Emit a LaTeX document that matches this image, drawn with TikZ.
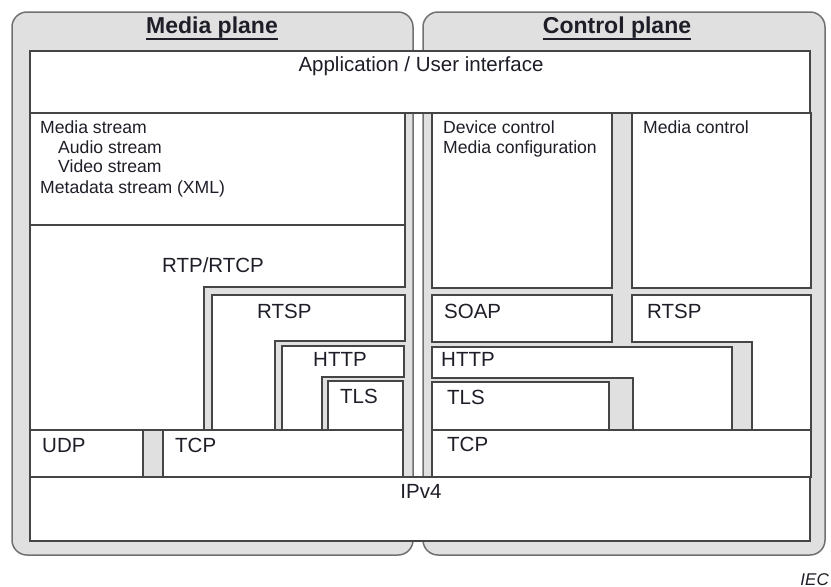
\documentclass[tikz,border=0pt]{standalone}
\usepackage{fontspec}
\setmainfont{Liberation Sans}
\definecolor{planefill}{HTML}{E0E0E0}
\definecolor{planeedge}{HTML}{707070}
\definecolor{boxedge}{HTML}{454545}
\definecolor{ink}{HTML}{1E1E28}
\begin{document}
\begin{tikzpicture}[x=1pt,y=-1pt,
  plane/.style={draw=planeedge,line width=1.5pt,fill=planefill,rounded corners=15pt},
  layer/.style={draw=boxedge,line width=1.1pt,fill=white,line join=miter},
  hdr/.style={inner sep=0pt,text=ink,font=\fontsize{23}{26}\selectfont\bfseries,anchor=base},
  ul/.style={draw=ink,line width=1.8pt},
  txt/.style={inner sep=0pt,text=ink,font=\fontsize{17.6}{20}\selectfont,anchor=base west},
  proto/.style={inner sep=0pt,text=ink,font=\fontsize{20.5}{24}\selectfont,anchor=base west},
  iecmark/.style={inner sep=0pt,text=ink,font=\fontsize{17}{20}\selectfont\itshape,anchor=base east}]
\useasboundingbox (0,0) rectangle (831,587);

% the two planes
\draw[plane] (12,12) rectangle (413,555);
\draw[plane] (423,12) rectangle (825,555);

\node[hdr] (mediahdr) at (212,33) {Media plane};
\draw[ul] ([yshift=-6pt]mediahdr.base west) -- ([yshift=-6pt]mediahdr.base east);
\node[hdr] (ctrlhdr) at (617,33) {Control plane};
\draw[ul] ([yshift=-6pt]ctrlhdr.base west) -- ([yshift=-6pt]ctrlhdr.base east);

% application layer spanning both planes
\draw[layer] (30,51) rectangle (810,113);
\node[proto,anchor=base] (app) at (421,71) {Application / User interface};

% media plane stack
\draw[layer] (30,113) rectangle (405,225);
\node[txt] (ms) at (40,133) {Media stream};
\node[txt] (as) at (58,153) {Audio stream};
\node[txt] (vs) at (58,172) {Video stream};
\node[txt] (md) at (40,193) {Metadata stream (XML)};

\draw[layer] (30,225) -- (405,225) -- (405,287) -- (204,287) -- (204,430) -- (30,430) -- cycle;
\node[proto,anchor=base] (rtp) at (213,272) {RTP/RTCP};

\draw[layer] (212,295) -- (405,295) -- (405,341) -- (275,341) -- (275,430) -- (212,430) -- cycle;
\node[proto] (rtspl) at (257,318) {RTSP};

\draw[layer] (282,346) -- (404,346) -- (404,377) -- (322,377) -- (322,430) -- (282,430) -- cycle;
\node[proto] (httpl) at (313,366) {HTTP};

\draw[layer] (328,381) rectangle (403,430);
\node[proto] (tlsl) at (340,403) {TLS};

\draw[layer] (30,430) rectangle (143,477);
\node[proto] (udp) at (42,452) {UDP};
\draw[layer] (163,430) rectangle (403,477);
\node[proto] (tcpl) at (175,452) {TCP};

% control plane stack
\draw[layer] (432,113) rectangle (612,288);
\node[txt] (dc) at (443,133) {Device control};
\node[txt] (mc) at (443,153) {Media configuration};
\draw[layer] (632,113) rectangle (811,288);
\node[txt] (mctl) at (643,133) {Media control};

\draw[layer] (432,295) rectangle (612,342);
\node[proto] (soap) at (444,318) {SOAP};

\draw[layer] (632,295) -- (811,295) -- (811,430) -- (752,430) -- (752,342) -- (632,342) -- cycle;
\node[proto] (rtspr) at (647,318) {RTSP};

\draw[layer] (432,347) -- (732,347) -- (732,430) -- (633,430) -- (633,378) -- (432,378) -- cycle;
\node[proto] (httpr) at (441,366) {HTTP};

\draw[layer] (432,382) rectangle (609,430);
\node[proto] (tlsr) at (447,404) {TLS};

\draw[layer] (432,430) rectangle (811,477);
\node[proto] (tcpr) at (447,451) {TCP};

% network layer spanning both planes
\draw[layer] (30,477) rectangle (810,541);
\node[proto,anchor=base] (ip) at (421,498) {IPv4};

\node[iecmark] (iec) at (829,585) {IEC};
\end{tikzpicture}
\end{document}
